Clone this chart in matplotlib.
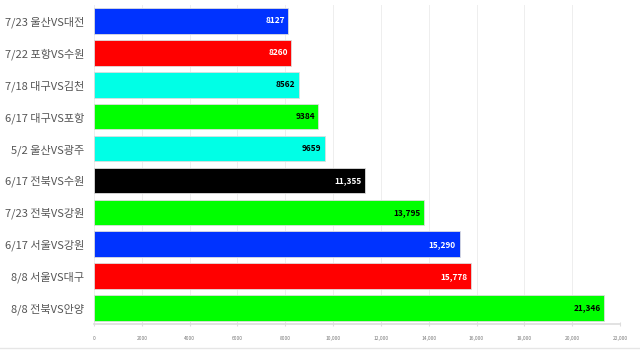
import matplotlib
matplotlib.use("Agg")
import matplotlib.pyplot as plt
from matplotlib.lines import Line2D

plt.rcParams['font.family'] = ['Noto Sans CJK KR', 'DejaVu Sans']

categories = ["7/23 울산VS대전", "7/22 포항VS수원", "7/18 대구VS김천", "6/17 대구VS포항",
              "5/2 울산VS광주", "6/17 전북VS수원", "7/23 전북VS강원", "6/17 서울VS강원",
              "8/8 서울VS대구", "8/8 전북VS안양"]
values = [8127, 8260, 8562, 9384, 9659, 11355, 13795, 15290, 15778, 21346]
value_labels = ["8127", "8260", "8562", "9384", "9659", "11,355", "13,795", "15,290", "15,778", "21,346"]
colors = ["#0033ff", "#ff0000", "#00ffe6", "#00ff00", "#00ffe6", "#000000",
          "#00ff00", "#0033ff", "#ff0000", "#00ff00"]
text_colors = ["white", "white", "black", "black", "black", "white",
               "black", "white", "white", "black"]
ticks = [0, 2000, 4000, 6000, 8000, 10000, 12000, 14000, 16000, 18000, 20000, 22000]
tick_labels = ["0", "2000", "4000", "6000", "8000", "10,000", "12,000", "14,000",
               "16,000", "18,000", "20,000", "22,000"]

fig = plt.figure(figsize=(6.4, 3.51), dpi=100)
ax = fig.add_axes([94/640, 1-324/351, (620-94)/640, (324-5)/351])

y = list(range(len(categories)))
ax.barh(y, values, height=0.8, color=colors, edgecolor="#dddddd", linewidth=0.6, zorder=3)
for yi, v, lab, tc in zip(y, values, value_labels, text_colors):
    ax.text(v - 150, yi, lab, ha="right", va="center", fontsize=6, fontweight="bold",
            color=tc, zorder=4)

ax.set_ylim(len(categories) - 0.5, -0.5)
ax.set_xlim(0, 22000)
ax.set_yticks(y)
ax.set_yticklabels(categories, fontsize=8, color="#555555")
ax.tick_params(axis="y", length=0, pad=7)
ax.set_xticks(ticks)
ax.set_xticklabels(tick_labels, fontsize=3.5, color="#777777")
ax.tick_params(axis="x", length=3, color="#dddddd", pad=7, direction="inout")
ax.grid(axis="x", color="#eeeeee", linewidth=0.7, zorder=0)
for s in ["top", "right", "left"]:
    ax.spines[s].set_visible(False)
ax.spines["bottom"].set_color("#dddddd")
ax.spines["bottom"].set_linewidth(1.2)

fig.add_artist(Line2D([0, 1], [1-347.5/351, 1-347.5/351], color="#e6e6e6", linewidth=1.0,
                      transform=fig.transFigure))

fig.savefig("out.png", dpi=100, facecolor="white")
